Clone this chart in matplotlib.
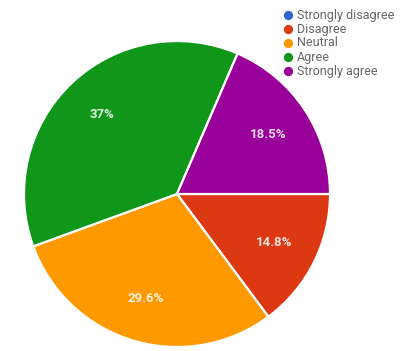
import matplotlib
matplotlib.use("Agg")
import matplotlib.pyplot as plt

categorias = ['Strongly disagree', 'Disagree', 'Neutral', 'Agree', 'Strongly agree']
porcentajes = [0, 14.8, 29.6, 37, 18.5]
colores = ['#3366CC', '#DC3912', '#FF9900', '#109618', '#990099']

fig = plt.figure(figsize=(4.07, 3.51), dpi=100)
ax = fig.add_axes([0, 0, 1, 1])

# las rebanadas con valor 0 no se dibujan, pero siguen en la leyenda
vals = [v for v in porcentajes if v > 0]
cols = [c for v, c in zip(porcentajes, colores) if v > 0]

# el eje y va invertido (pixeles), asi que counterclock=True se ve en sentido horario
wedges, textos, pcts = ax.pie(
    vals, colors=cols, startangle=0, counterclock=True,
    center=(177, 194), radius=153, frame=True,
    autopct=lambda p: f'{round(p, 1):g}%', pctdistance=0.71,
    wedgeprops=dict(edgecolor='white', linewidth=1.6),
    textprops=dict(color='white', fontsize=9.5, family='Roboto', fontweight='bold', alpha=0.85),
)

ax.set_xlim(0, 407)
ax.set_ylim(351, 0)
ax.set_aspect('equal')
ax.axis('off')

for i, (cat, col) in enumerate(zip(categorias, colores)):
    y = 15 + 14 * i
    ax.scatter(288, y, s=32, color=col, zorder=5)
    ax.text(297, y, cat, fontsize=9, family='Roboto', color='#666666', va='center', ha='left')

fig.savefig('out.png', dpi=100, facecolor='white')
